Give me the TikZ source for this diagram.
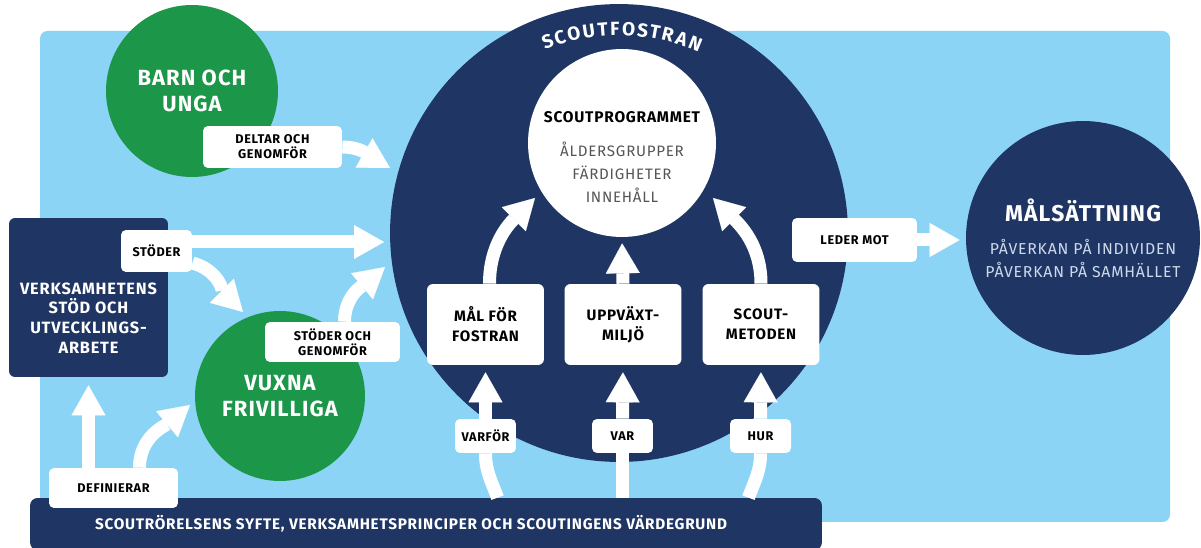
\documentclass[tikz,border=0pt]{standalone}
\usepackage{fontspec}
\setmainfont{Fira Sans}[LetterSpace=5]
\usetikzlibrary{arrows.meta,calc}

\definecolor{skyblue}{RGB}{140,212,245}
\definecolor{scoutnavy}{RGB}{31,53,100}
\definecolor{scoutgreen}{RGB}{28,150,72}
\definecolor{listgray}{RGB}{85,85,85}
\definecolor{palegray}{RGB}{205,218,236}

\begin{document}
\begin{tikzpicture}[x=0.02cm,y=0.02cm,
  flowline/.style={white,line width=0.26cm},
  flow/.style={flowline,-{Triangle[length=0.6cm,width=0.68cm,line width=0.1pt]}},
  tag/.style={fill=white,rounded corners=0.1cm,inner sep=0pt,align=center,
    font=\bfseries\fontsize{7.2}{8.6}\selectfont},
  part/.style={fill=white,rounded corners=0.12cm,inner sep=0pt,align=center,
    minimum width=2.34cm,minimum height=1.62cm,font=\bfseries\fontsize{8.6}{11.3}\selectfont},
  group/.style={circle,fill=scoutgreen,text=white,inner sep=0pt,align=center,
    font=\bfseries\fontsize{12.5}{15}\selectfont},
  navyfill/.style={fill=scoutnavy,inner sep=0pt}]
\useasboundingbox (0,0) rectangle (1201,548);
\clip (0,0) rectangle (1201,548);
\fill[white] (0,0) rectangle (1201,548);
\fill[skyblue,rounded corners=0.15cm] (40,26) rectangle (1170,517);

% circles
\node[group,minimum size=3.44cm] (barn) at (192,457) {BARN OCH\\UNGA};
\node[group,minimum size=3.4cm] (vuxna) at (280,152) {VUXNA\\FRIVILLIGA};
\node[navyfill,circle,minimum size=9.16cm] (fostran) at (619,315) {};
\node[circle,fill=white,inner sep=0pt,minimum size=3.76cm] (prog) at (622,405) {};
\node[navyfill,circle,minimum size=4.68cm] (malsat) at (1083,310) {};
% title round the top of the big circle
\foreach \ch/\ang [count=\i] in {S/110.5,C/106.8,O/102.8,U/98.5,T/94.6,F/91.2,
    O/87.3,S/83.3,T/79.8,R/76.1,A/72.1,N/68}
  \node[text=white,inner sep=0pt,font=\bfseries\fontsize{10.8}{12}\selectfont,
    rotate=\ang-90] (arc\i) at ($(fostran.center)+(\ang:204)$) {\ch};

% texts in circles
\node[font=\bfseries\fontsize{8.8}{10}\selectfont] (progtitle) at (622,430.5) {SCOUTPROGRAMMET};
\node[align=center,text=listgray,font=\fontsize{8.6}{13}\selectfont] (proglist) at (622,376)
  {ÅLDERSGRUPPER\\FÄRDIGHETER\\INNEHÅLL};
\node[text=white,font=\bfseries\fontsize{13}{15}\selectfont] (malsattitle) at (1083,338) {MÅLSÄTTNING};
\node[align=center,text=palegray,font=\fontsize{9}{13}\selectfont] (malsatlist) at (1083,289.5)
  {PÅVERKAN PÅ INDIVIDEN\\PÅVERKAN PÅ SAMHÄLLET};

% boxes
\node[navyfill,rounded corners=0.12cm,minimum width=3.18cm,minimum height=3.18cm] (verks) at (88.5,250.5) {};
\node[align=center,text=white,font=\bfseries\fontsize{9.3}{11.3}\selectfont] (verkstext) at (88.5,230)
  {VERKSAMHETENS\\STÖD OCH\\UTVECKLINGS-\\ARBETE};
\node[navyfill,rounded corners=0.15cm,minimum width=15.84cm,minimum height=1.04cm] (bar) at (426,24) {};
\node[text=white,font=\bfseries\fontsize{8.7}{10}\selectfont] (bartext) at (411,24)
  {SCOUTRÖRELSENS SYFTE, VERKSAMHETSPRINCIPER OCH SCOUTINGENS VÄRDEGRUND};

% labels
\node[tag,minimum width=2.78cm,minimum height=0.84cm] (deltar) at (272.5,401) {DELTAR OCH\\GENOMFÖR};
\node[tag,minimum width=1.42cm,minimum height=0.84cm] (stoder) at (156.5,297) {STÖDER};
\node[tag,minimum width=2.7cm,minimum height=0.8cm] (stodgen) at (332.5,206) {STÖDER OCH\\GENOMFÖR};
\node[tag,minimum width=2.58cm,minimum height=0.8cm] (defin) at (113.5,60) {DEFINIERAR};
\node[tag,minimum width=2.5cm,minimum height=0.88cm] (leder) at (854.5,308) {LEDER MOT};
\node[part] (mal) at (485.5,223.5) {MÅL FÖR\\FOSTRAN};
\node[part] (uppv) at (623,223.5) {UPPVÄXT-\\MILJÖ};
\node[part] (metod) at (761,223.5) {SCOUT-\\METODEN};
\node[tag,minimum width=1.22cm,minimum height=0.68cm] (varfor) at (485.5,112) {VARFÖR};
\node[tag,minimum width=1.22cm,minimum height=0.68cm] (var) at (622.5,112) {VAR};
\node[tag,minimum width=1.22cm,minimum height=0.68cm] (hur) at (760.5,112) {HUR};

% arrow ends
\coordinate (inA) at (390,380);
\coordinate (inB) at (384,306);
\coordinate (inC) at (243,236);
\coordinate (inD) at (385,281);
\coordinate (inE) at (190,143);
\coordinate (inF) at (535,350);
\coordinate (inG) at (713,350);

% arrows
\draw[flow] (deltar.east) to[out=0,in=150] (inA);
\draw[flow] (stoder.east |- inB) -- (inB);
\draw[flow] ($(stoder.east)+(0,-12)$) to[out=-15,in=135] (inC);
\draw[flow] ($(stodgen.north)+(12,0)$) to[out=90,in=220] (inD);
\draw[flow,shorten >=0.16cm] (defin.north -| verks.south) -- (verks.south);
\draw[flow] ($(defin.north)+(26,0)$) to[out=90,in=220] (inE);
\draw[flow] ($(mal.north)+(4,0)$) to[out=90,in=225] (inF);
\draw[flow,shorten >=0.12cm] (uppv.north) -- (prog.south);
\draw[flow] (metod.north) to[out=90,in=-45] (inG);
\draw[flowline] ($(bar.north -| varfor)+(12,0)$) to[out=110,in=-90] (varfor.south);
\draw[flow,shorten >=0.14cm] (varfor.north) -- (mal.south);
\draw[flowline] (bar.north -| var) -- (var.south);
\draw[flow,shorten >=0.14cm] (var.north) -- (uppv.south);
\draw[flowline] ($(bar.north -| hur)+(-12,0)$) to[out=70,in=-90] (hur.south);
\draw[flow,shorten >=0.14cm] (hur.north) -- (metod.south);
\draw[flow,shorten >=0.12cm] (leder.east) -- (leder.east -| malsat.west);
\end{tikzpicture}
\end{document}
